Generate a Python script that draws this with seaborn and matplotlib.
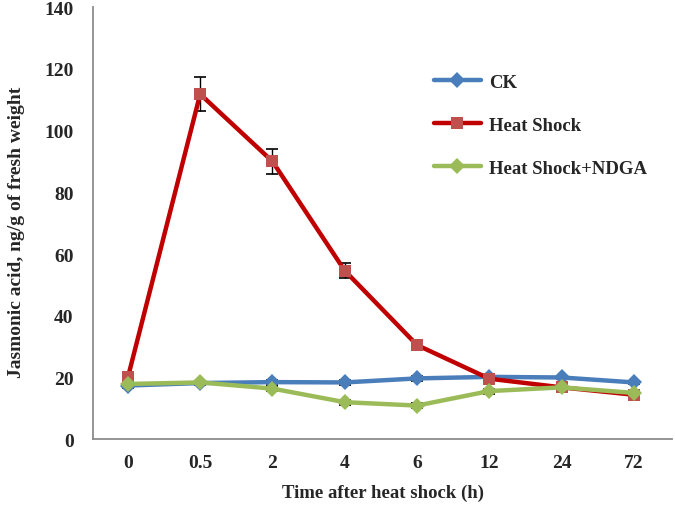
import numpy as np
import pandas as pd
import matplotlib
matplotlib.use("Agg")
import matplotlib.pyplot as plt
import seaborn as sns

# data
times = ["0", "0.5", "2", "4", "6", "12", "24", "72"]
ck = [17.4, 18.2, 18.5, 18.4, 19.7, 20.2, 20.0, 18.4]
heat = [20.0, 111.8, 90.0, 54.6, 30.5, 19.6, 16.8, 14.4]
ndga = [17.9, 18.4, 16.4, 12.0, 10.9, 15.6, 16.8, 15.0]
ck_err = [0.8, 0.6, 0.8, 0.8, 0.8, 0.6, 0.6, 0.6]
heat_err = [1.0, 5.5, 4.0, 2.5, 1.0, 1.0, 1.0, 1.0]
ndga_err = [0.8, 0.6, 0.8, 0.8, 0.8, 0.8, 0.6, 0.6]
series = ["CK", "Heat Shock", "Heat Shock+NDGA"]

BLUE = "#4a7ebb"
RED = "#c00000"
RED_MK = "#c0504d"
GREEN = "#9bbb59"
AXIS = "#8c8c8c"

df = pd.concat([
    pd.DataFrame({"time": times, "value": ck, "err": ck_err, "group": series[0]}),
    pd.DataFrame({"time": times, "value": heat, "err": heat_err, "group": series[1]}),
    pd.DataFrame({"time": times, "value": ndga, "err": ndga_err, "group": series[2]}),
], ignore_index=True)
df["pos"] = df["time"].map({t: i for i, t in enumerate(times)})

sns.set_style("white")
plt.rcParams["font.family"] = ["Liberation Serif", "DejaVu Serif"]
plt.rcParams["font.weight"] = "bold"

fig = plt.figure(figsize=(6.75, 5.06), dpi=100)
ax = fig.add_axes([0.138, 0.130, 0.858, 0.854])

# error bars underneath the lines
for name in series:
    d = df[df["group"] == name]
    ax.errorbar(d["pos"], d["value"], yerr=d["err"], fmt="none",
                ecolor="black", elinewidth=1.0, capsize=4, capthick=1.2, zorder=1)

sns.lineplot(data=df, x="pos", y="value", hue="group", style="group",
             hue_order=series, style_order=series,
             palette={series[0]: BLUE, series[1]: RED, series[2]: GREEN},
             markers={series[0]: "D", series[1]: "s", series[2]: "D"},
             dashes=False, linewidth=3.2, markersize=8, markeredgewidth=0,
             ax=ax, zorder=3, legend=False)

for line in ax.lines:
    if line.get_marker() == "s":
        line.set_markerfacecolor(RED_MK)

ax.set_xlim(-0.48, 7.53)
ax.set_ylim(0, 140)
ax.set_yticks(np.arange(0, 141, 20))
ax.set_xticks(range(len(times)))
ax.set_xticklabels(times)

for s in ["top", "right"]:
    ax.spines[s].set_visible(False)
for s in ["left", "bottom"]:
    ax.spines[s].set_color(AXIS)
    ax.spines[s].set_linewidth(1.3)

ax.tick_params(axis="both", which="major", direction="out", length=5, width=1.2,
               color=AXIS, labelsize=14, pad=6)
ax.tick_params(axis="y", pad=9)
for lbl in ax.get_xticklabels() + ax.get_yticklabels():
    lbl.set_fontweight("bold")

ax.set_xlabel("Time after heat shock (h)", fontsize=13.5, fontweight="bold", labelpad=9)
ax.set_ylabel("Jasmonic acid, ng/g of fresh weight", fontsize=14, fontweight="bold")
ax.yaxis.set_label_coords(-0.138 + 12 / 579, 0.48)

# legend built from the same colours and markers
handles = [
    plt.Line2D([], [], color=BLUE, lw=3.2, marker="D", ms=8, mew=0, mfc=BLUE),
    plt.Line2D([], [], color=RED, lw=3.2, marker="s", ms=8, mew=0, mfc=RED_MK),
    plt.Line2D([], [], color=GREEN, lw=3.2, marker="D", ms=8, mew=0, mfc=GREEN),
]
ax.legend(handles, series, loc="upper left", bbox_to_anchor=(0.588, 0.846),
          frameon=False, borderpad=0, borderaxespad=0,
          handlelength=2.5, handletextpad=0.45, labelspacing=1.38,
          prop={"weight": "bold", "size": 13.5})

plt.savefig("out.png", dpi=100)
